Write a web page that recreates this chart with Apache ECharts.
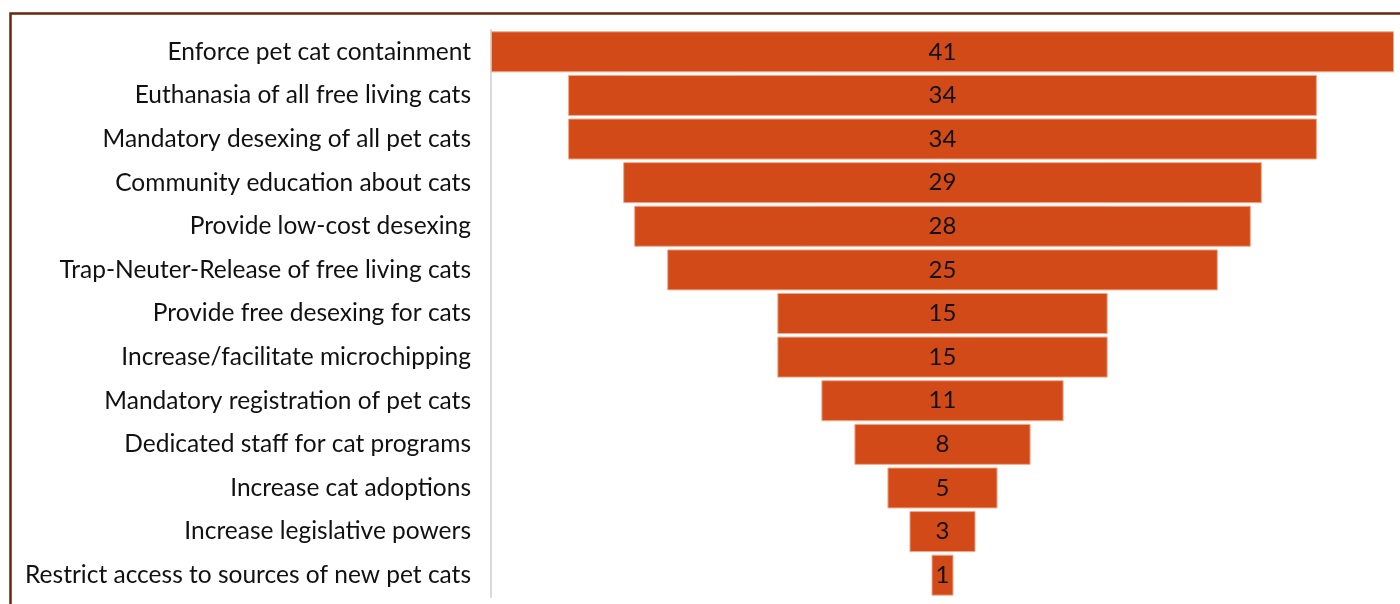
<!DOCTYPE html>
<html>
<head>
<meta charset="utf-8">
<script src="https://cdn.jsdelivr.net/npm/echarts@6/dist/echarts.min.js"></script>
<style>
html,body{margin:0;padding:0;background:#fff;}
#chart{width:1400px;height:604px;}
</style>
</head>
<body>
<div id="chart"></div>
<script>
const categories = [
  "Enforce pet cat containment",
  "Euthanasia of all free living cats",
  "Mandatory desexing of all pet cats",
  "Community education about cats",
  "Provide low-cost desexing",
  "Trap-Neuter-Release of free living cats",
  "Provide free desexing for cats",
  "Increase/facilitate microchipping",
  "Mandatory registration of pet cats",
  "Dedicated staff for cat programs",
  "Increase cat adoptions",
  "Increase legislative powers",
  "Restrict access to sources of new pet cats"
];
const values = [41, 34, 34, 29, 28, 25, 15, 15, 11, 8, 5, 3, 1];

const maxVal = Math.max(...values);
const offsets = values.map(v => (maxVal - v) / 2);

const chart = echarts.init(document.getElementById('chart'));
chart.setOption({
  animation: false,
  backgroundColor: '#ffffff',
  grid: { left: 491, right: 6, top: 30, bottom: 7, containLabel: false },
  xAxis: {
    type: 'value', min: 0, max: maxVal,
    show: false
  },
  yAxis: {
    type: 'category', data: categories, inverse: true,
    axisLine: { show: true, lineStyle: { color: '#d9d9d9', width: 2 } },
    axisTick: { show: false },
    axisLabel: {
      color: '#111', fontFamily: 'Lato', fontSize: 24.5, margin: 20
    }
  },
  series: [
    {
      type: 'bar', stack: 'f', data: offsets, barCategoryGap: '6%',
      itemStyle: { color: 'transparent' }, silent: true
    },
    {
      type: 'bar', stack: 'f', data: values, barCategoryGap: '6%',
      itemStyle: { color: '#D24A18', borderColor: '#F2A98A', borderWidth: 1 },
      label: {
        show: true, position: 'inside', color: '#111',
        fontFamily: 'Lato', fontSize: 24
      }
    }
  ],
  graphic: [{
    type: 'rect', left: 8, top: 11,
    shape: { x: 0, y: 0, width: 1500, height: 700 },
    style: { fill: 'none', stroke: '#6A2410', lineWidth: 2.5 },
    silent: true
  }]
});
</script>
</body>
</html>
